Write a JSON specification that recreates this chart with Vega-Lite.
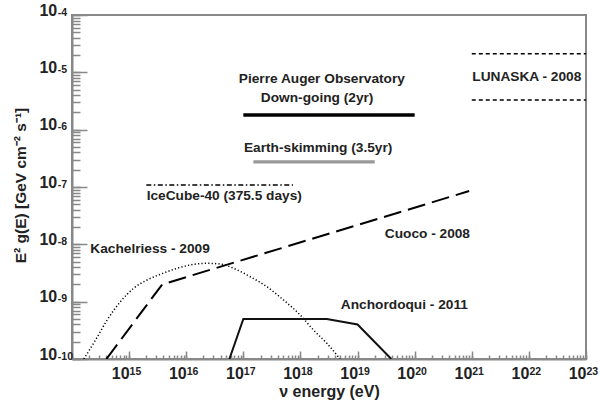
{
  "$schema": "https://vega.github.io/schema/vega-lite/v6.json",
  "width": 514,
  "height": 344,
  "autosize": {"type": "none"},
  "padding": {"left": 72, "top": 15, "right": 14, "bottom": 42},
  "background": "white",
  "config": {
    "view": {"stroke": "#888", "strokeWidth": 2},
    "axis": {"grid": false, "domainColor": "#888", "labelFont": "Liberation Sans", "labelFontWeight": "bold", "labelColor": "#222", "titleFont": "Liberation Sans", "titleFontWeight": "bold", "titleColor": "#222", "labelOverlap": false, "labelFlush": false},
    "text": {"font": "Liberation Sans", "fontWeight": "bold", "fontSize": 13.7, "fill": "#222"}
  },
  "datasets": {
    "auger": [{"e": 1e17, "flux": 1.8e-6}, {"e": 1e20, "flux": 1.8e-6}],
    "skim": [{"e": 1.5e17, "flux": 2.75e-7}, {"e": 2e19, "flux": 2.75e-7}],
    "lunaska": [
      {"bound": "upper", "e": 1e21, "flux": 2.1e-5}, {"bound": "upper", "e": 1e23, "flux": 2.1e-5},
      {"bound": "lower", "e": 1e21, "flux": 3.3e-6}, {"bound": "lower", "e": 1e23, "flux": 3.3e-6}
    ],
    "icecube": [{"e": 2e15, "flux": 1.08e-7}, {"e": 7.4e17, "flux": 1.08e-7}],
    "cuoco": [{"e": 4e14, "flux": 1e-10}, {"e": 3.8e15, "flux": 2.0e-9}, {"e": 9e20, "flux": 8.5e-8}],
    "kach": [
      {"e": 1.61e14, "flux": 1e-10}, {"e": 2.58e14, "flux": 2.14e-10}, {"e": 4.12e14, "flux": 4.79e-10},
      {"e": 7.05e14, "flux": 1.0e-9}, {"e": 1.2e15, "flux": 1.71e-9}, {"e": 2.07e15, "flux": 2.39e-9},
      {"e": 3.52e15, "flux": 3.0e-9}, {"e": 6.9e15, "flux": 3.82e-9}, {"e": 1.35e16, "flux": 4.48e-9},
      {"e": 2.31e16, "flux": 4.67e-9}, {"e": 3.95e16, "flux": 4.54e-9}, {"e": 6.74e16, "flux": 3.82e-9},
      {"e": 1.32e17, "flux": 2.72e-9}, {"e": 2.59e17, "flux": 1.82e-9}, {"e": 5.05e17, "flux": 1.07e-9},
      {"e": 9.9e17, "flux": 5.85e-10}, {"e": 1.69e18, "flux": 3.2e-10}, {"e": 2.9e18, "flux": 1.88e-10},
      {"e": 4.94e18, "flux": 1e-10}
    ],
    "anch": [
      {"e": 5.7e16, "flux": 1e-10}, {"e": 1e17, "flux": 5e-10}, {"e": 2.9e18, "flux": 5e-10},
      {"e": 1e19, "flux": 4e-10}, {"e": 3.9e19, "flux": 1e-10}
    ],
    "notes": [
      {"e": 2.37e18, "flux": 7.65e-6, "label": "Pierre Auger Observatory"},
      {"e": 1.96e18, "flux": 3.56e-6, "label": "Down-going (2yr)"},
      {"e": 2.04e18, "flux": 4.79e-7, "label": "Earth-skimming (3.5yr)"},
      {"e": 9.2e21, "flux": 8.3e-6, "label": "LUNASKA - 2008"},
      {"e": 4.63e16, "flux": 6.97e-8, "label": "IceCube-40 (375.5 days)"},
      {"e": 2.33e15, "flux": 8.28e-9, "label": "Kachelriess - 2009"},
      {"e": 1.67e20, "flux": 1.51e-8, "label": "Cuoco - 2008"},
      {"e": 6.6e19, "flux": 8.74e-10, "label": "Anchordoqui - 2011"}
    ]
  },
  "resolve": {"axis": {"x": "independent", "y": "independent"}},
  "layer": [
    {
      "data": {"name": "auger"},
      "mark": {"type": "line", "color": "#000", "strokeWidth": 3.5, "clip": true},
      "encoding": {
        "x": {"field": "e", "type": "quantitative", "scale": {"type": "log", "domain": [1e14, 1e23], "nice": false}, "axis": null},
        "y": {"field": "flux", "type": "quantitative", "scale": {"type": "log", "domain": [1e-10, 1e-4], "nice": false}, "axis": null}
      }
    },
    {
      "data": {"name": "skim"},
      "mark": {"type": "line", "color": "#999", "strokeWidth": 3.2, "clip": true},
      "encoding": {
        "x": {"field": "e", "type": "quantitative", "scale": {"type": "log", "domain": [1e14, 1e23], "nice": false}, "axis": null},
        "y": {"field": "flux", "type": "quantitative", "scale": {"type": "log", "domain": [1e-10, 1e-4], "nice": false}, "axis": null}
      }
    },
    {
      "data": {"name": "lunaska"},
      "mark": {"type": "line", "color": "#000", "strokeWidth": 1.5, "strokeDash": [4, 3], "clip": true},
      "encoding": {
        "detail": {"field": "bound"},
        "x": {"field": "e", "type": "quantitative", "scale": {"type": "log", "domain": [1e14, 1e23], "nice": false},
              "axis": {"orient": "bottom", "title": "ν energy (eV)", "values": [1e15, 1e16, 1e17, 1e18, 1e19, 1e20, 1e21, 1e22, 1e23], "ticks": false, "domain": true, "domainWidth": 2,
                       "labelExpr": "'10'", "labelAlign": "right", "labelDx": 4, "labelBaseline": "alphabetic", "labelPadding": 19, "labelFontSize": 16,
                       "titleFontSize": 16, "titleY": 37.5, "titleBaseline": "alphabetic"}},
        "y": {"field": "flux", "type": "quantitative", "scale": {"type": "log", "domain": [1e-10, 1e-4], "nice": false},
              "axis": {"orient": "left", "title": "E² g(E) [GeV cm⁻² s⁻¹]", "values": [1e-10, 1e-9, 1e-8, 1e-7, 1e-6, 1e-5, 1e-4], "ticks": false, "domain": true, "domainWidth": 2,
                       "labelExpr": "'10'", "labelAlign": "right", "labelPadding": 15.3, "labelBaseline": "alphabetic", "labelDy": 8.5, "labelFontSize": 16,
                       "titleAngle": 270, "titleX": -47, "titleY": 170, "titleBaseline": "alphabetic", "titleAlign": "center", "titleFontSize": 15.5}}
      }
    },
    {
      "data": {"name": "icecube"},
      "mark": {"type": "line", "color": "#000", "strokeWidth": 1.5, "strokeDash": [5, 2.5, 1.5, 2.5], "clip": true},
      "encoding": {
        "x": {"field": "e", "type": "quantitative", "scale": {"type": "log", "domain": [1e14, 1e23], "nice": false},
              "axis": {"orient": "bottom", "title": null, "values": [1e15, 1e16, 1e17, 1e18, 1e19, 1e20, 1e21, 1e22, 1e23], "ticks": false, "domain": false,
                       "labelExpr": "'' + round(log(datum.value) / LN10)", "labelAlign": "left", "labelDx": 4.5, "labelBaseline": "alphabetic", "labelPadding": 15, "labelFontSize": 10.5}},
        "y": {"field": "flux", "type": "quantitative", "scale": {"type": "log", "domain": [1e-10, 1e-4], "nice": false},
              "axis": {"orient": "left", "title": null, "values": [1e-10, 1e-9, 1e-8, 1e-7, 1e-6, 1e-5, 1e-4], "ticks": false, "domain": false,
                       "labelExpr": "'' + round(log(datum.value) / LN10)", "labelAlign": "left", "labelPadding": 14.7, "labelBaseline": "alphabetic", "labelDy": 2, "labelFontSize": 10.5}}
      }
    },
    {
      "data": {"name": "cuoco"},
      "mark": {"type": "line", "color": "#000", "strokeWidth": 2, "strokeDash": [18, 7], "clip": true},
      "encoding": {
        "x": {"field": "e", "type": "quantitative", "scale": {"type": "log", "domain": [1e14, 1e23], "nice": false},
              "axis": {"orient": "bottom", "title": null, "labels": false, "tickCount": 50, "ticks": false, "domain": false,
                       "grid": true, "gridColor": "#888", "gridOpacity": 1, "gridWidth": 1.5, "gridDash": [0, 340, 4, 2000]}},
        "y": {"field": "flux", "type": "quantitative", "scale": {"type": "log", "domain": [1e-10, 1e-4], "nice": false},
              "axis": {"orient": "left", "title": null, "labels": false, "tickCount": 50, "ticks": false, "domain": false,
                       "grid": true, "gridColor": "#888", "gridOpacity": 1, "gridWidth": 1.5, "gridDash": [8, 2000]}}
      }
    },
    {
      "data": {"name": "kach"},
      "mark": {"type": "line", "color": "#000", "strokeWidth": 1.5, "strokeDash": [1.2, 2.2], "interpolate": "monotone", "clip": true},
      "encoding": {
        "x": {"field": "e", "type": "quantitative", "scale": {"type": "log", "domain": [1e14, 1e23], "nice": false},
              "axis": {"orient": "bottom", "title": null, "labels": false, "values": [1e15, 1e16, 1e17, 1e18, 1e19, 1e20, 1e21, 1e22, 1e23], "ticks": false, "domain": false,
                       "grid": true, "gridColor": "#888", "gridOpacity": 1, "gridWidth": 1.5, "gridDash": [0, 336, 8, 2000]}},
        "y": {"field": "flux", "type": "quantitative", "scale": {"type": "log", "domain": [1e-10, 1e-4], "nice": false},
              "axis": {"orient": "left", "title": null, "labels": false, "values": [1e-10, 1e-9, 1e-8, 1e-7, 1e-6, 1e-5, 1e-4], "ticks": false, "domain": false,
                       "grid": true, "gridColor": "#888", "gridOpacity": 1, "gridWidth": 1.5, "gridDash": [15, 2000]}}
      }
    },
    {
      "data": {"name": "anch"},
      "mark": {"type": "line", "color": "#111", "strokeWidth": 2, "clip": true},
      "encoding": {
        "x": {"field": "e", "type": "quantitative", "scale": {"type": "log", "domain": [1e14, 1e23], "nice": false}, "axis": null},
        "y": {"field": "flux", "type": "quantitative", "scale": {"type": "log", "domain": [1e-10, 1e-4], "nice": false}, "axis": null}
      }
    },
    {
      "data": {"name": "notes"},
      "mark": {"type": "text", "align": "center", "baseline": "middle"},
      "encoding": {
        "x": {"field": "e", "type": "quantitative", "scale": {"type": "log", "domain": [1e14, 1e23], "nice": false}, "axis": null},
        "y": {"field": "flux", "type": "quantitative", "scale": {"type": "log", "domain": [1e-10, 1e-4], "nice": false}, "axis": null},
        "text": {"field": "label"}
      }
    }
  ]
}
